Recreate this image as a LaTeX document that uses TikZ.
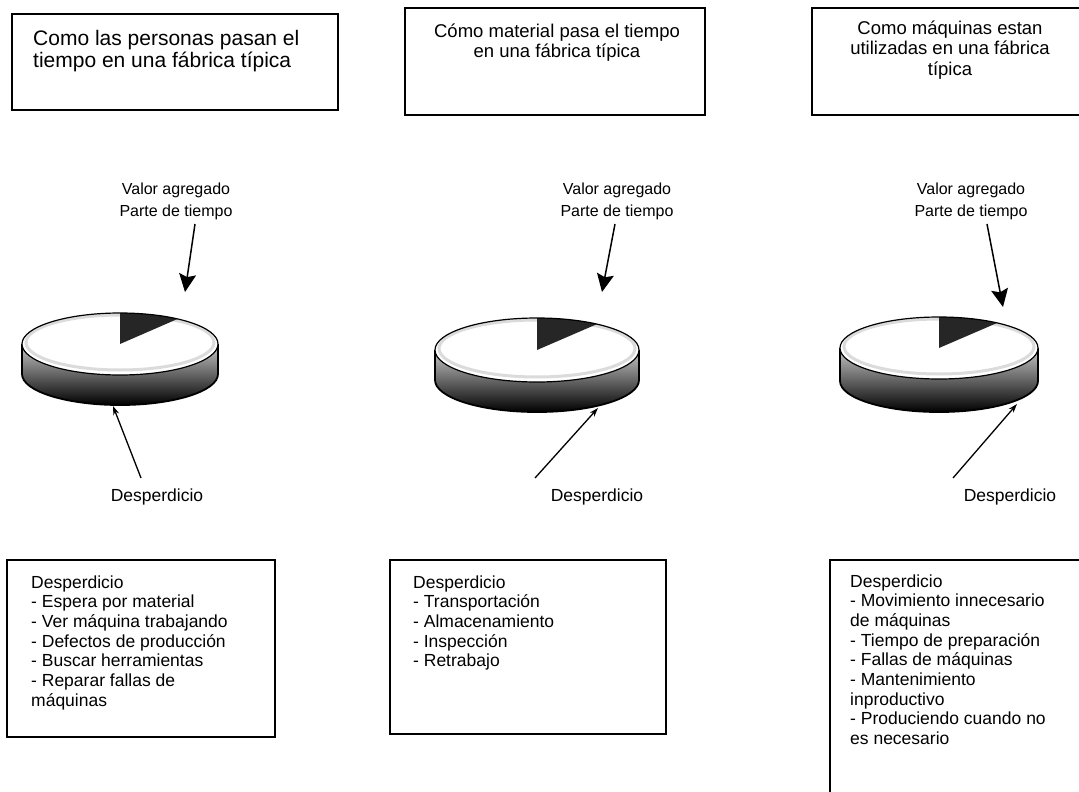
\documentclass[tikz,border=0pt]{standalone}
\usepackage{fontspec}
\setmainfont{Liberation Sans}
\usetikzlibrary{arrows.meta}

% cylinder pie: #1 cx, #2 cy, #3 rx, #4 ry, #5 depth
\newcommand{\tortacil}[5]{%
  \fill[ladoshade] ({#1+#3},#2) -- ({#1+#3},{#2+#5})
    arc[start angle=0,end angle=180,x radius=#3,y radius=#4]
    -- ({#1-#3},#2)
    arc[start angle=180,end angle=0,x radius=#3,y radius=#4] -- cycle;
  \draw[line width=1.8pt] ({#1+#3},#2) -- ({#1+#3},{#2+#5})
    arc[start angle=0,end angle=180,x radius=#3,y radius=#4]
    -- ({#1-#3},#2);
  \fill[white] (#1,#2) ellipse [x radius=#3, y radius=#4];
  \draw[black!14, line width=3pt] (#1,{#2-1.5}) ellipse [x radius={#3-4}, y radius={#4-3.5}];
  \fill[black!85] (#1,#2) -- (#1,{#2-#4})
    arc[start angle=270,end angle=306,x radius=#3,y radius=#4] -- cycle;
  \draw[line width=1.2pt] (#1,#2) ellipse [x radius=#3, y radius=#4];
}

\begin{document}
\begin{tikzpicture}[x=1pt,y=-1pt,
  marco/.style={line width=1.7pt},
  ladoshade/.style={top color=black!22, middle color=black!55, bottom color=black},
  titgrande/.style={inner sep=0pt, anchor=north west, align=left,
    font=\fontsize{21}{22.5}\selectfont},
  titulo/.style={inner sep=0pt, anchor=north, align=center,
    font=\fontsize{18.5}{20.5}\selectfont},
  rotulo/.style={inner sep=0pt, anchor=north, align=center,
    font=\fontsize{16}{22}\selectfont},
  desp/.style={inner sep=0pt, anchor=north,
    font=\fontsize{17.5}{19.7}\selectfont},
  lista/.style={inner sep=0pt, anchor=north west, align=left,
    font=\fontsize{17.5}{19.7}\selectfont},
  flechagruesa/.style={line width=1.5pt, -{Stealth[length=18pt,width=17pt,inset=3pt]}},
  flechafina/.style={line width=1.3pt, -{Stealth[length=9pt,width=6pt]}}]
\useasboundingbox (0,0) rectangle (1079,792);
\fill[white] (0,0) rectangle (1079,792);

% title frames
\draw[marco] (12,14) rectangle (338,110);
\draw[marco] (405,8) rectangle (705,115);
\draw[marco] (812,8) rectangle (1090,115);

\node[titgrande] (t1) at (33,30) {Como las personas pasan el\\tiempo en una fábrica típica};
\node[titulo] (t2) at (557,23.5) {Cómo material pasa el tiempo\\en una fábrica típica};
\node[titulo] (t3) at (950,20.5) {Como máquinas estan\\utilizadas en una fábrica\\típica};

% value-added labels
\node[rotulo] (va1) at (176,182.5) {Valor agregado\\Parte de tiempo};
\node[rotulo] (va2) at (617,182.5) {Valor agregado\\Parte de tiempo};
\node[rotulo] (va3) at (971,182.5) {Valor agregado\\Parte de tiempo};

% pies
\tortacil{120}{344}{98}{31}{30}
\tortacil{537}{350}{102}{32}{30}
\tortacil{939}{348}{99}{31}{33}

% arrow ends
\coordinate (v1a) at (195,224); \coordinate (v1b) at (185,292);
\coordinate (v2a) at (615,224); \coordinate (v2b) at (602,292);
\coordinate (v3a) at (987,224); \coordinate (v3b) at (1003,307);
\coordinate (d1a) at (141,478); \coordinate (d1b) at (113,406);
\coordinate (d2a) at (535,478); \coordinate (d2b) at (598,408);
\coordinate (d3a) at (953,478); \coordinate (d3b) at (1017,404);

\draw[flechagruesa] (v1a) -- (v1b);
\draw[flechagruesa] (v2a) -- (v2b);
\draw[flechagruesa] (v3a) -- (v3b);
\draw[flechafina] (d1a) -- (d1b);
\draw[flechafina] (d2a) -- (d2b);
\draw[flechafina] (d3a) -- (d3b);

% waste labels
\node[desp] (de1) at (157,489) {Desperdicio};
\node[desp] (de2) at (597,489) {Desperdicio};
\node[desp] (de3) at (1010,489) {Desperdicio};

% waste lists
\draw[marco] (7,560) rectangle (275,737);
\draw[marco] (390,560) rectangle (666,734);
\draw[marco] (830,560) rectangle (1090,800);

\node[lista] (l1) at (31,575.2) {Desperdicio\\- Espera por material\\- Ver máquina trabajando\\- Defectos de producción\\- Buscar herramientas\\- Reparar fallas de\\máquinas};
\node[lista] (l2) at (413,575.2) {Desperdicio\\- Transportación\\- Almacenamiento\\- Inspección\\- Retrabajo};
\node[lista] (l3) at (850,574.2) {Desperdicio\\- Movimiento innecesario\\de máquinas\\- Tiempo de preparación\\- Fallas de máquinas\\- Mantenimiento\\inproductivo\\- Produciendo cuando no\\es necesario};
\end{tikzpicture}
\end{document}
